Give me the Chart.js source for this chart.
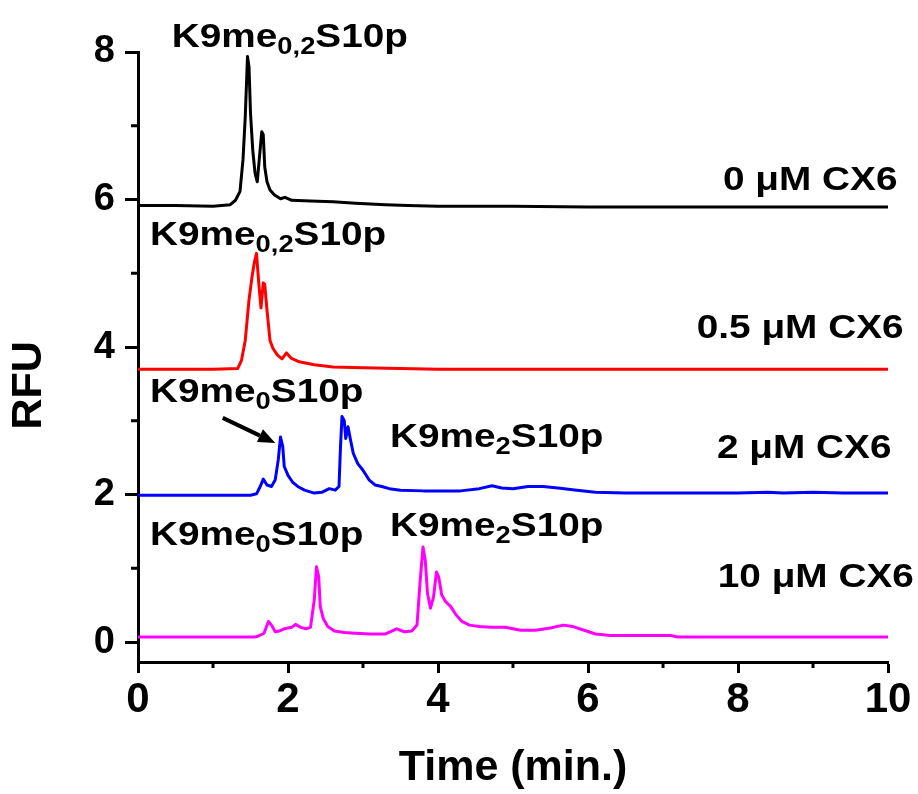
<!DOCTYPE html>
<html>
<head>
<meta charset="utf-8">
<script src="https://cdn.jsdelivr.net/npm/chart.js@4.4.1/dist/chart.umd.min.js"></script>
<style>
  html, body { margin: 0; padding: 0; background: #ffffff; }
  canvas { display: block; }
</style>
</head>
<body>
<canvas id="chart" width="918" height="794"></canvas>
<script>
// ---- chromatograms: retention time (min) and fluorescence (RFU) ----
const time0uM = [0, 0.5, 1.0, 1.23, 1.3, 1.36, 1.40, 1.43, 1.46, 1.48, 1.50, 1.53, 1.56, 1.59, 1.62, 1.65, 1.67, 1.69, 1.72, 1.76, 1.82, 1.90, 1.96, 2.05, 2.3, 2.6, 2.9, 3.3, 3.6, 4, 5, 6, 7, 8, 9, 10];
const rfu0uM  = [5.92, 5.92, 5.91, 5.93, 5.99, 6.11, 6.54, 7.12, 7.94, 7.80, 7.17, 6.67, 6.36, 6.24, 6.58, 6.92, 6.88, 6.44, 6.24, 6.13, 6.06, 6.01, 6.03, 5.99, 5.98, 5.97, 5.95, 5.93, 5.92, 5.91, 5.91, 5.90, 5.90, 5.90, 5.90, 5.90];

const time05uM = [0, 0.5, 1.0, 1.33, 1.38, 1.43, 1.48, 1.52, 1.55, 1.58, 1.61, 1.64, 1.67, 1.69, 1.72, 1.76, 1.80, 1.86, 1.92, 1.98, 2.04, 2.15, 2.35, 2.6, 3.0, 3.5, 4, 5, 6, 7, 8, 9, 10];
const rfu05uM  = [3.70, 3.70, 3.70, 3.71, 3.82, 4.09, 4.64, 4.95, 5.14, 5.27, 4.87, 4.53, 4.87, 4.85, 4.50, 4.09, 3.98, 3.89, 3.84, 3.92, 3.85, 3.80, 3.76, 3.73, 3.72, 3.71, 3.70, 3.70, 3.70, 3.70, 3.70, 3.70, 3.70];

const time2uM = [0, 0.5, 1.0, 1.5, 1.58, 1.63, 1.67, 1.72, 1.78, 1.83, 1.87, 1.90, 1.93, 1.95, 2.00, 2.06, 2.13, 2.22, 2.35, 2.45, 2.55, 2.63, 2.68, 2.70, 2.72, 2.75, 2.77, 2.80, 2.83, 2.87, 2.93, 3.00, 3.08, 3.16, 3.25, 3.35, 3.5, 3.8, 4.3, 4.55, 4.72, 4.85, 5.0, 5.2, 5.4, 5.6, 5.85, 6.1, 6.5, 7, 8, 8.4, 8.6, 9, 9.4, 10];
const rfu2uM  = [1.99, 1.99, 1.99, 1.99, 2.01, 2.11, 2.21, 2.13, 2.11, 2.20, 2.47, 2.78, 2.65, 2.38, 2.26, 2.17, 2.11, 2.06, 2.02, 2.03, 2.08, 2.06, 2.11, 2.65, 3.06, 3.00, 2.76, 2.92, 2.76, 2.56, 2.42, 2.33, 2.20, 2.13, 2.11, 2.08, 2.06, 2.05, 2.05, 2.08, 2.12, 2.09, 2.08, 2.11, 2.11, 2.09, 2.06, 2.03, 2.02, 2.02, 2.02, 2.03, 2.02, 2.03, 2.02, 2.02];

const time10uM = [0, 0.5, 1.0, 1.55, 1.60, 1.68, 1.74, 1.78, 1.83, 1.88, 1.95, 2.05, 2.10, 2.17, 2.24, 2.30, 2.35, 2.38, 2.41, 2.43, 2.47, 2.53, 2.62, 2.75, 2.9, 3.1, 3.3, 3.45, 3.55, 3.65, 3.72, 3.76, 3.80, 3.83, 3.86, 3.90, 3.94, 3.98, 4.01, 4.05, 4.10, 4.17, 4.24, 4.32, 4.42, 4.55, 4.7, 4.9, 5.1, 5.3, 5.5, 5.67, 5.8, 5.95, 6.1, 6.3, 7.1, 7.2, 8, 9, 10];
const rfu10uM  = [0.07, 0.07, 0.07, 0.07, 0.08, 0.12, 0.28, 0.23, 0.14, 0.15, 0.18, 0.20, 0.24, 0.20, 0.18, 0.20, 0.57, 1.02, 0.88, 0.48, 0.32, 0.21, 0.15, 0.13, 0.12, 0.11, 0.11, 0.18, 0.14, 0.15, 0.23, 0.80, 1.29, 1.11, 0.66, 0.46, 0.61, 0.95, 0.88, 0.64, 0.55, 0.48, 0.37, 0.28, 0.23, 0.21, 0.20, 0.20, 0.16, 0.16, 0.19, 0.23, 0.21, 0.16, 0.11, 0.09, 0.09, 0.07, 0.07, 0.07, 0.07];

// ---- axes ----
const xTicks = [0, 2, 4, 6, 8, 10];
const xMinorTicks = [1, 3, 5, 7, 9];
const yTicks = [0, 2, 4, 6, 8];
const yMinorTicks = [1, 3, 5, 7];

// ---- text labels ----
const conditionNames = ['0 \u03BCM CX6', '0.5 \u03BCM CX6', '2 \u03BCM CX6', '10 \u03BCM CX6'];
const peakNames = [
  ['K9me', '0,2', 'S10p'],
  ['K9me', '0,2', 'S10p'],
  ['K9me', '0', 'S10p'],
  ['K9me', '2', 'S10p'],
  ['K9me', '0', 'S10p'],
  ['K9me', '2', 'S10p']
];

// where the labels sit, in axis units (left edge, text baseline)
const conditionAnchors = [[7.80, 6.13], [7.45, 4.12], [7.72, 2.49], [7.73, 0.75]];
const peakAnchors = [[0.45, 8.07], [0.16, 5.38], [0.16, 3.25], [3.36, 2.64], [0.16, 1.32], [3.36, 1.44]];
const arrowFrom = [1.13, 3.04];
const arrowTo = [1.83, 2.70];

const FONT = '"Liberation Sans", Arial, Helvetica, sans-serif';
const LABEL_SIZE = 34;
const LABEL_STRETCH = 1.14;

const toPoints = (xs, ys) => xs.map((x, i) => ({ x: x, y: ys[i] }));

function trace(label, xs, ys, color) {
  return {
    label: label,
    data: toPoints(xs, ys),
    borderColor: color,
    backgroundColor: color,
    borderWidth: 3,
    borderJoinStyle: 'round',
    borderCapStyle: 'round',
    pointRadius: 0,
    tension: 0,
    fill: false
  };
}

// short unlabeled ticks between the numbered ones
const minorTickPlugin = {
  id: 'minorTicks',
  afterDraw(chart) {
    const { ctx, scales: { x, y }, chartArea } = chart;
    ctx.save();
    ctx.strokeStyle = '#000';
    ctx.lineWidth = 3;
    ctx.beginPath();
    xMinorTicks.forEach(v => {
      const px = x.getPixelForValue(v);
      ctx.moveTo(px, chartArea.bottom);
      ctx.lineTo(px, chartArea.bottom + 6);
    });
    yMinorTicks.forEach(v => {
      const py = y.getPixelForValue(v);
      ctx.moveTo(chartArea.left, py);
      ctx.lineTo(chartArea.left - 7, py);
    });
    ctx.stroke();
    ctx.restore();
  }
};

// draws a run of text pieces where every second piece is a subscript
function drawRichText(ctx, parts, px, py) {
  ctx.save();
  ctx.translate(px, py);
  ctx.scale(LABEL_STRETCH, 1);
  let cx = 0;
  parts.forEach((part, i) => {
    const isSub = i % 2 === 1;
    const size = isSub ? Math.round(LABEL_SIZE * 0.7) : LABEL_SIZE;
    ctx.font = 'bold ' + size + 'px ' + FONT;
    ctx.fillText(part, cx, isSub ? 7 : 0);
    cx += ctx.measureText(part).width;
  });
  ctx.restore();
}

const annotationPlugin = {
  id: 'annotations',
  afterDraw(chart) {
    const { ctx, scales: { x, y }, chartArea } = chart;
    ctx.save();
    ctx.fillStyle = '#000';
    ctx.textBaseline = 'alphabetic';
    ctx.textAlign = 'left';

    conditionNames.forEach((name, i) => {
      const [ax, ay] = conditionAnchors[i];
      drawRichText(ctx, [name], x.getPixelForValue(ax), y.getPixelForValue(ay));
    });
    peakNames.forEach((parts, i) => {
      const [ax, ay] = peakAnchors[i];
      drawRichText(ctx, parts, x.getPixelForValue(ax), y.getPixelForValue(ay));
    });

    // arrow pointing at the unmodified peak of the 2 uM run
    const x1 = x.getPixelForValue(arrowFrom[0]), y1 = y.getPixelForValue(arrowFrom[1]);
    const x2 = x.getPixelForValue(arrowTo[0]), y2 = y.getPixelForValue(arrowTo[1]);
    const ang = Math.atan2(y2 - y1, x2 - x1);
    const headLen = 17, headHalf = 7;
    const bx = x2 - headLen * Math.cos(ang), by = y2 - headLen * Math.sin(ang);
    ctx.strokeStyle = '#000';
    ctx.lineWidth = 4;
    ctx.beginPath();
    ctx.moveTo(x1, y1);
    ctx.lineTo(bx, by);
    ctx.stroke();
    ctx.beginPath();
    ctx.moveTo(x2, y2);
    ctx.lineTo(bx + headHalf * Math.sin(ang), by - headHalf * Math.cos(ang));
    ctx.lineTo(bx - headHalf * Math.sin(ang), by + headHalf * Math.cos(ang));
    ctx.closePath();
    ctx.fill();

    // vertical axis title
    ctx.save();
    ctx.translate(chartArea.left - 109, y.getPixelForValue(3.48));
    ctx.rotate(-Math.PI / 2);
    ctx.font = 'bold 43px ' + FONT;
    ctx.textAlign = 'center';
    ctx.textBaseline = 'middle';
    ctx.fillText('RFU', 0, 0);
    ctx.restore();

    ctx.restore();
  }
};

new Chart(document.getElementById('chart'), {
  type: 'line',
  data: {
    datasets: [
      trace('0 \u03BCM CX6', time0uM, rfu0uM, '#000000'),
      trace('0.5 \u03BCM CX6', time05uM, rfu05uM, '#ff0000'),
      trace('2 \u03BCM CX6', time2uM, rfu2uM, '#0000ff'),
      trace('10 \u03BCM CX6', time10uM, rfu10uM, '#ff00ff')
    ]
  },
  options: {
    responsive: false,
    animation: false,
    events: [],
    layout: { padding: { left: 0, right: 30, top: 52, bottom: 0 } },
    plugins: {
      legend: { display: false },
      tooltip: { enabled: false }
    },
    scales: {
      x: {
        type: 'linear',
        min: 0,
        max: 10,
        afterBuildTicks: s => { s.ticks = xTicks.map(v => ({ value: v })); },
        afterFit: s => { s.height = 132; },
        border: { display: true, color: '#000', width: 3 },
        grid: { display: true, drawOnChartArea: false, drawTicks: true, tickLength: 11, tickWidth: 3, tickColor: '#000' },
        ticks: {
          color: '#000',
          padding: 2,
          maxRotation: 0,
          autoSkip: false,
          font: { family: FONT, size: 42, weight: 'bold' }
        },
        title: {
          display: true,
          text: 'Time (min.)',
          color: '#000',
          padding: { top: 0, bottom: 0 },
          font: { family: FONT, size: 43, weight: 'bold' }
        }
      },
      y: {
        type: 'linear',
        min: -0.27,
        max: 8,
        afterBuildTicks: s => { s.ticks = yTicks.map(v => ({ value: v })); },
        afterFit: s => { s.width = 138; },
        border: { display: true, color: '#000', width: 3 },
        grid: { display: true, drawOnChartArea: false, drawTicks: true, tickLength: 13, tickWidth: 3, tickColor: '#000' },
        ticks: {
          color: '#000',
          padding: 10,
          autoSkip: false,
          font: { family: FONT, size: 38, weight: 'bold' }
        }
      }
    }
  },
  plugins: [minorTickPlugin, annotationPlugin]
});
</script>
</body>
</html>
